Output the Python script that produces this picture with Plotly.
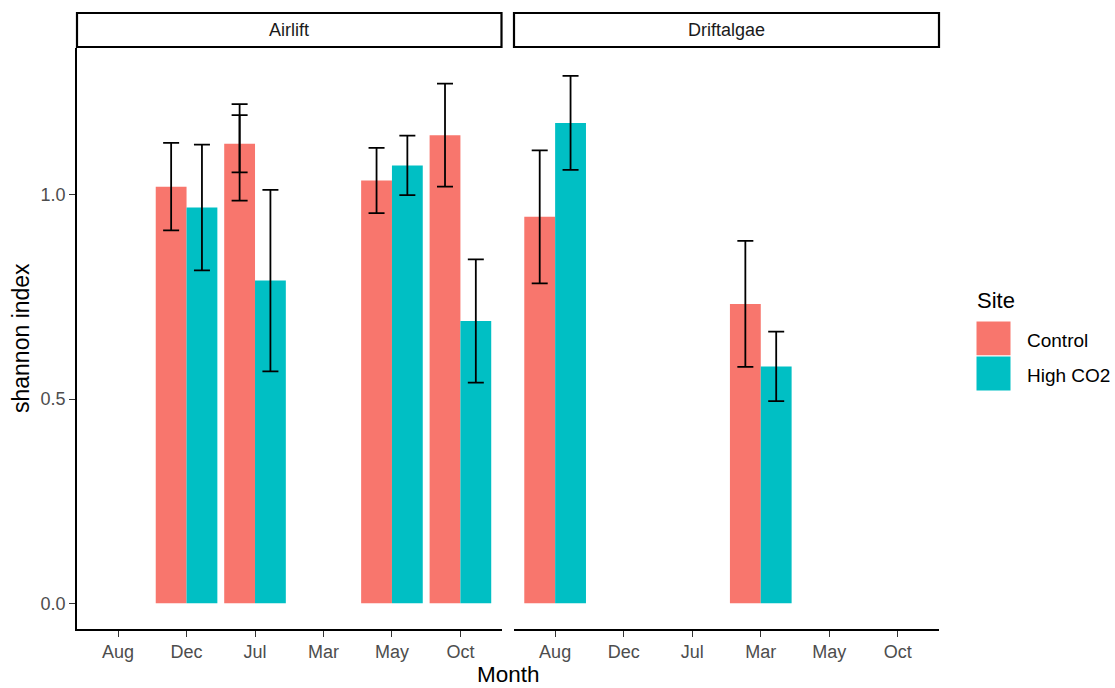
import plotly.graph_objects as go

# ---------------- data ----------------
months = ["Aug", "Dec", "Jul", "Mar", "May", "Oct"]
sites = ["Control", "High CO2"]
site_colors = ["#F8766D", "#00BFC4"]
panels = ["Airlift", "Driftalgae"]

airlift_control = [None, 1.020, 1.125, None, 1.035, 1.146]
airlift_control_err = [None, 0.107, 0.070, None, 0.080, 0.126]
# second (overlapping) Control record for Jul in Airlift
airlift_control_dup = [None, None, 1.104, None, None, None]
airlift_control_dup_err = [None, None, 0.118, None, None, None]
airlift_high = [None, 0.969, 0.790, None, 1.072, 0.691]
airlift_high_err = [None, 0.154, 0.222, None, 0.073, 0.151]

drift_control = [0.946, None, None, 0.733, None, None]
drift_control_err = [0.163, None, None, 0.154, None, None]
drift_high = [1.176, None, None, 0.580, None, None]
drift_high_err = [0.115, None, None, 0.085, None, None]

y_ticks = [0.0, 0.5, 1.0]
y_ticktext = ["0.0", "0.5", "1.0"]

# ---------------- layout helpers ----------------
W, H = 1115, 688
FONT = "Liberation Sans, Arial, sans-serif"


def px(x):
    return x / W


def py(y):
    return 1 - y / H


def err(arr):
    return dict(type="data", array=arr, color="black", thickness=1.8, width=8, visible=True)


fig = go.Figure()

# Airlift panel
fig.add_trace(go.Bar(x=months, y=airlift_control, name=sites[0], offsetgroup="c",
                     marker=dict(color=site_colors[0], line=dict(width=0)),
                     error_y=err(airlift_control_err), xaxis="x", yaxis="y", showlegend=False))
fig.add_trace(go.Bar(x=months, y=airlift_control_dup, name=sites[0], offsetgroup="c",
                     marker=dict(color="rgba(0,0,0,0)", line=dict(width=0)),
                     error_y=err(airlift_control_dup_err), xaxis="x", yaxis="y", showlegend=False))
fig.add_trace(go.Bar(x=months, y=airlift_high, name=sites[1], offsetgroup="h",
                     marker=dict(color=site_colors[1], line=dict(width=0)),
                     error_y=err(airlift_high_err), xaxis="x", yaxis="y", showlegend=False))

# Driftalgae panel
fig.add_trace(go.Bar(x=months, y=drift_control, name=sites[0], offsetgroup="c",
                     marker=dict(color=site_colors[0], line=dict(width=0)),
                     error_y=err(drift_control_err), xaxis="x2", yaxis="y", showlegend=False))
fig.add_trace(go.Bar(x=months, y=drift_high, name=sites[1], offsetgroup="h",
                     marker=dict(color=site_colors[1], line=dict(width=0)),
                     error_y=err(drift_high_err), xaxis="x2", yaxis="y", showlegend=False))

TICK_FONT = dict(family=FONT, size=18, color="#4D4D4D")

xaxis_common = dict(
    type="category", categoryorder="array", categoryarray=months,
    range=[-0.6, len(months) - 0.4],
    showline=True, linecolor="black", linewidth=1.6, mirror=False,
    ticks="outside", ticklen=6, tickwidth=1.3, tickcolor="#333333",
    tickfont=TICK_FONT,
    showgrid=False, zeroline=False, anchor="y", fixedrange=True,
)

fig.update_layout(
    width=W, height=H,
    margin=dict(l=0, r=0, t=0, b=0),
    paper_bgcolor="white", plot_bgcolor="white",
    barmode="group", bargap=0.1, bargroupgap=0.0,
    showlegend=False,
    font=dict(family=FONT),
    xaxis=dict(domain=[px(77), px(501.5)], **xaxis_common),
    xaxis2=dict(domain=[px(514), px(939)], **xaxis_common),
    yaxis=dict(domain=[py(629), py(48)], range=[-0.0629, 1.3594], anchor="x",
               tickvals=y_ticks, ticktext=y_ticktext,
               showline=True, linecolor="black", linewidth=1.6,
               ticks="outside", ticklen=6, tickwidth=1.3, tickcolor="#333333",
               tickfont=TICK_FONT,
               showgrid=False, zeroline=False, fixedrange=True),
)

shapes = []
annotations = []

# facet strips
strip_bounds = [(77, 501.5), (514, 939)]
for name, (x0, x1) in zip(panels, strip_bounds):
    shapes.append(dict(type="rect", xref="paper", yref="paper",
                       x0=px(x0), x1=px(x1), y0=py(47), y1=py(13),
                       line=dict(color="black", width=2.2), fillcolor="white"))
    annotations.append(dict(text=name, xref="paper", yref="paper",
                            x=px((x0 + x1) / 2), y=py(30), showarrow=False,
                            xanchor="center", yanchor="middle",
                            font=dict(family=FONT, size=18, color="#1A1A1A")))

# axis titles
annotations.append(dict(text="Month", xref="paper", yref="paper", x=px(508), y=py(674),
                        showarrow=False, xanchor="center", yanchor="middle", borderpad=0,
                        font=dict(family=FONT, size=22.5, color="black")))
annotations.append(dict(text="shannon index", xref="paper", yref="paper", x=px(21), y=py(338),
                        showarrow=False, xanchor="center", yanchor="middle", textangle=-90,
                        font=dict(family=FONT, size=23, color="black")))

# legend
annotations.append(dict(text="Site", xref="paper", yref="paper", x=px(975), y=py(300),
                        showarrow=False, xanchor="left", yanchor="middle",
                        font=dict(family=FONT, size=22, color="black")))
key_tops = [321, 356]
for name, color, top in zip(sites, site_colors, key_tops):
    shapes.append(dict(type="rect", xref="paper", yref="paper",
                       x0=px(976), x1=px(1011), y0=py(top + 35), y1=py(top),
                       line=dict(color="white", width=1), fillcolor=color))
    annotations.append(dict(text=name, xref="paper", yref="paper", x=px(1025), y=py(top + 19),
                            showarrow=False, xanchor="left", yanchor="middle",
                            font=dict(family=FONT, size=19, color="black")))

fig.update_layout(shapes=shapes, annotations=annotations)

fig.write_html("out.html",
               config={"displayModeBar": False},
               post_script="document.body.style.margin='0';document.body.style.padding='0';"
                           "document.body.style.overflow='hidden';")
